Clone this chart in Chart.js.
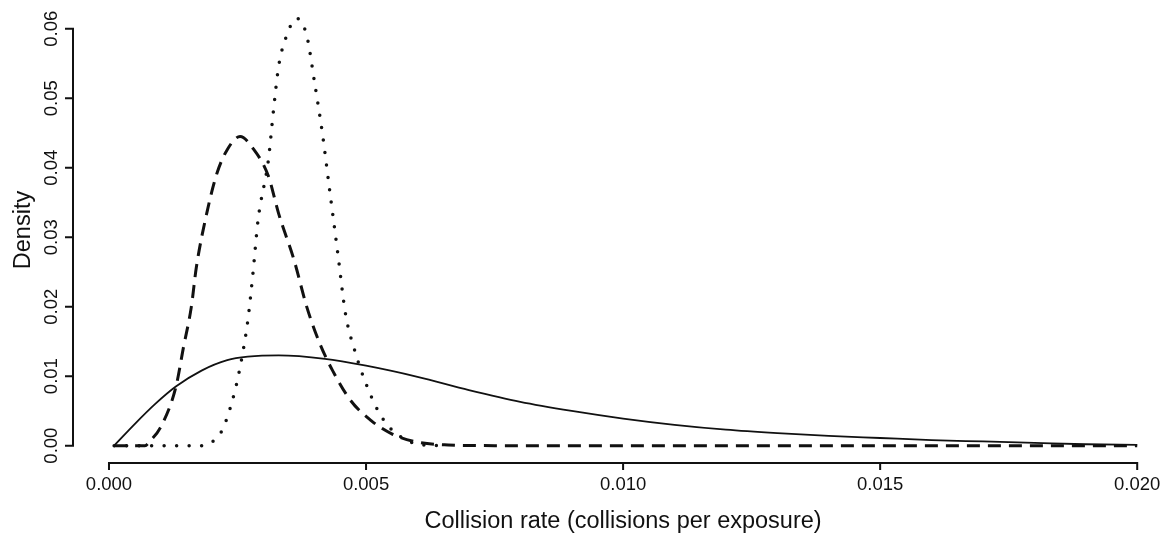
<!DOCTYPE html>
<html>
<head>
<meta charset="utf-8">
<script src="https://cdn.jsdelivr.net/npm/chart.js@4.4.1/dist/chart.umd.min.js"></script>
<style>
  html, body { margin: 0; padding: 0; background: #fff; }
  #wrap { width: 1166px; height: 535px; }
</style>
</head>
<body>
<div id="wrap"><canvas id="chart" width="1166" height="535"></canvas></div>
<script>
// solid curve
const solidX = [0.0001, 0.0005, 0.0009, 0.0013, 0.0018, 0.0023, 0.0027, 0.0033, 0.0042, 0.0050, 0.0060, 0.0070, 0.0080, 0.0090, 0.0100, 0.0110, 0.0120, 0.0130, 0.0140, 0.0150, 0.0160, 0.0170, 0.0180, 0.0190, 0.0200];
const solidY = [0, 0.0031, 0.0060, 0.0085, 0.0108, 0.0123, 0.0128, 0.0130, 0.0125, 0.0115, 0.0099, 0.0080, 0.0063, 0.0050, 0.0039, 0.0030, 0.0023, 0.0018, 0.0014, 0.0011, 0.0008, 0.0006, 0.0004, 0.0002, 0.0001];

// dashed curve
const dashedX = [0.0001, 0.0007, 0.0008, 0.0010, 0.0013, 0.00145, 0.0016, 0.0017, 0.0019, 0.0021, 0.0023, 0.00255, 0.0028, 0.0031, 0.0033, 0.0036, 0.00385, 0.0041, 0.00435, 0.0047, 0.0051, 0.0055, 0.0060, 0.0066, 0.0075, 0.0200];
const dashedY = [0, 0, 0.0007, 0.0026, 0.0084, 0.0142, 0.0199, 0.0257, 0.0334, 0.0392, 0.0426, 0.0445, 0.0428, 0.0388, 0.0334, 0.0267, 0.0199, 0.0147, 0.0108, 0.0065, 0.0036, 0.0017, 0.0005, 0.0001, 0, 0];

// dotted curve
const dottedX = [0.0001, 0.0018, 0.0020, 0.0022, 0.0024, 0.00255, 0.0027, 0.0028, 0.0029, 0.0031, 0.0032, 0.0033, 0.00345, 0.00365, 0.00385, 0.0040, 0.00415, 0.0043, 0.00445, 0.0046, 0.0048, 0.0050, 0.0052, 0.0054, 0.0056, 0.0058, 0.0061, 0.0065];
const dottedY = [0, 0, 0.0005, 0.0022, 0.0065, 0.0113, 0.0180, 0.0248, 0.0325, 0.0411, 0.0483, 0.0546, 0.0589, 0.0615, 0.0589, 0.0522, 0.0450, 0.0363, 0.0277, 0.0190, 0.0132, 0.0089, 0.0055, 0.0031, 0.0017, 0.0007, 0.0001, 0];

const xTicks = [0, 0.005, 0.010, 0.015, 0.020];
const xTickLabels = ['0.000', '0.005', '0.010', '0.015', '0.020'];
const yTicks = [0, 0.01, 0.02, 0.03, 0.04, 0.05, 0.06];
const yTickLabels = ['0.00', '0.01', '0.02', '0.03', '0.04', '0.05', '0.06'];
const xTitle = 'Collision rate (collisions per exposure)';
const yTitle = 'Density';

const FONT = '"Liberation Sans", Arial, Helvetica, sans-serif';

function toPoints(xs, ys) {
  return xs.map((x, i) => ({ x, y: ys[i] }));
}

// R-style detached axes: line only between first and last tick
const rAxes = {
  id: 'rAxes',
  afterDraw(chart) {
    const { ctx, chartArea, scales } = chart;
    const sx = scales.x;
    const sy = scales.y;
    const axisX = chartArea.left;
    const axisY = chartArea.bottom;

    ctx.save();
    ctx.strokeStyle = '#111';
    ctx.fillStyle = '#111';
    ctx.lineWidth = 2;
    ctx.lineCap = 'butt';

    // x axis
    const x0 = sx.getPixelForValue(xTicks[0]);
    const x1 = sx.getPixelForValue(xTicks[xTicks.length - 1]);
    ctx.beginPath();
    ctx.moveTo(x0, axisY);
    ctx.lineTo(x1, axisY);
    xTicks.forEach((v) => {
      const px = sx.getPixelForValue(v);
      ctx.moveTo(px, axisY - 1);
      ctx.lineTo(px, axisY + 7);
    });
    ctx.stroke();

    ctx.font = `18.5px ${FONT}`;
    ctx.textAlign = 'center';
    ctx.textBaseline = 'alphabetic';
    xTicks.forEach((v, i) => {
      ctx.fillText(xTickLabels[i], sx.getPixelForValue(v), 490);
    });

    // y axis
    const y0 = sy.getPixelForValue(yTicks[0]);
    const y1 = sy.getPixelForValue(yTicks[yTicks.length - 1]);
    ctx.beginPath();
    ctx.moveTo(axisX, y0);
    ctx.lineTo(axisX, y1);
    yTicks.forEach((v) => {
      const py = sy.getPixelForValue(v);
      ctx.moveTo(axisX + 1, py);
      ctx.lineTo(axisX - 8, py);
    });
    ctx.stroke();

    yTicks.forEach((v, i) => {
      ctx.save();
      ctx.translate(57, sy.getPixelForValue(v));
      ctx.rotate(-Math.PI / 2);
      ctx.textAlign = 'center';
      ctx.textBaseline = 'alphabetic';
      ctx.fillText(yTickLabels[i], 0, 0);
      ctx.restore();
    });

    // titles
    ctx.font = `23.5px ${FONT}`;
    ctx.textAlign = 'center';
    ctx.textBaseline = 'alphabetic';
    ctx.fillText(xTitle, (x0 + x1) / 2, 528);

    ctx.save();
    ctx.translate(30, (chartArea.top + chartArea.bottom) / 2 - 2);
    ctx.rotate(-Math.PI / 2);
    ctx.fillText(yTitle, 0, 0);
    ctx.restore();

    ctx.restore();
  },
};

new Chart(document.getElementById('chart'), {
  type: 'line',
  data: {
    datasets: [
      {
        label: 'solid',
        data: toPoints(solidX, solidY),
        borderColor: '#111',
        borderWidth: 1.8,
        cubicInterpolationMode: 'monotone',
      },
      {
        label: 'dashed',
        data: toPoints(dashedX, dashedY),
        borderColor: '#111',
        borderWidth: 3,
        borderDash: [13, 8],
        cubicInterpolationMode: 'monotone',
      },
      {
        label: 'dotted',
        data: toPoints(dottedX, dottedY),
        borderColor: '#111',
        borderWidth: 3.5,
        borderDash: [0, 12.5],
        borderCapStyle: 'round',
        cubicInterpolationMode: 'monotone',
      },
    ],
  },
  options: {
    responsive: false,
    devicePixelRatio: 1,
    animation: false,
    layout: { padding: { left: 73, top: 1, right: 0, bottom: 72 } },
    elements: { point: { radius: 0 } },
    scales: {
      x: { type: 'linear', min: -0.0007, max: 0.02056, display: false },
      y: { type: 'linear', min: -0.0025, max: 0.064, display: false },
    },
    plugins: { legend: { display: false }, tooltip: { enabled: false } },
  },
  plugins: [rAxes],
});
</script>
</body>
</html>
